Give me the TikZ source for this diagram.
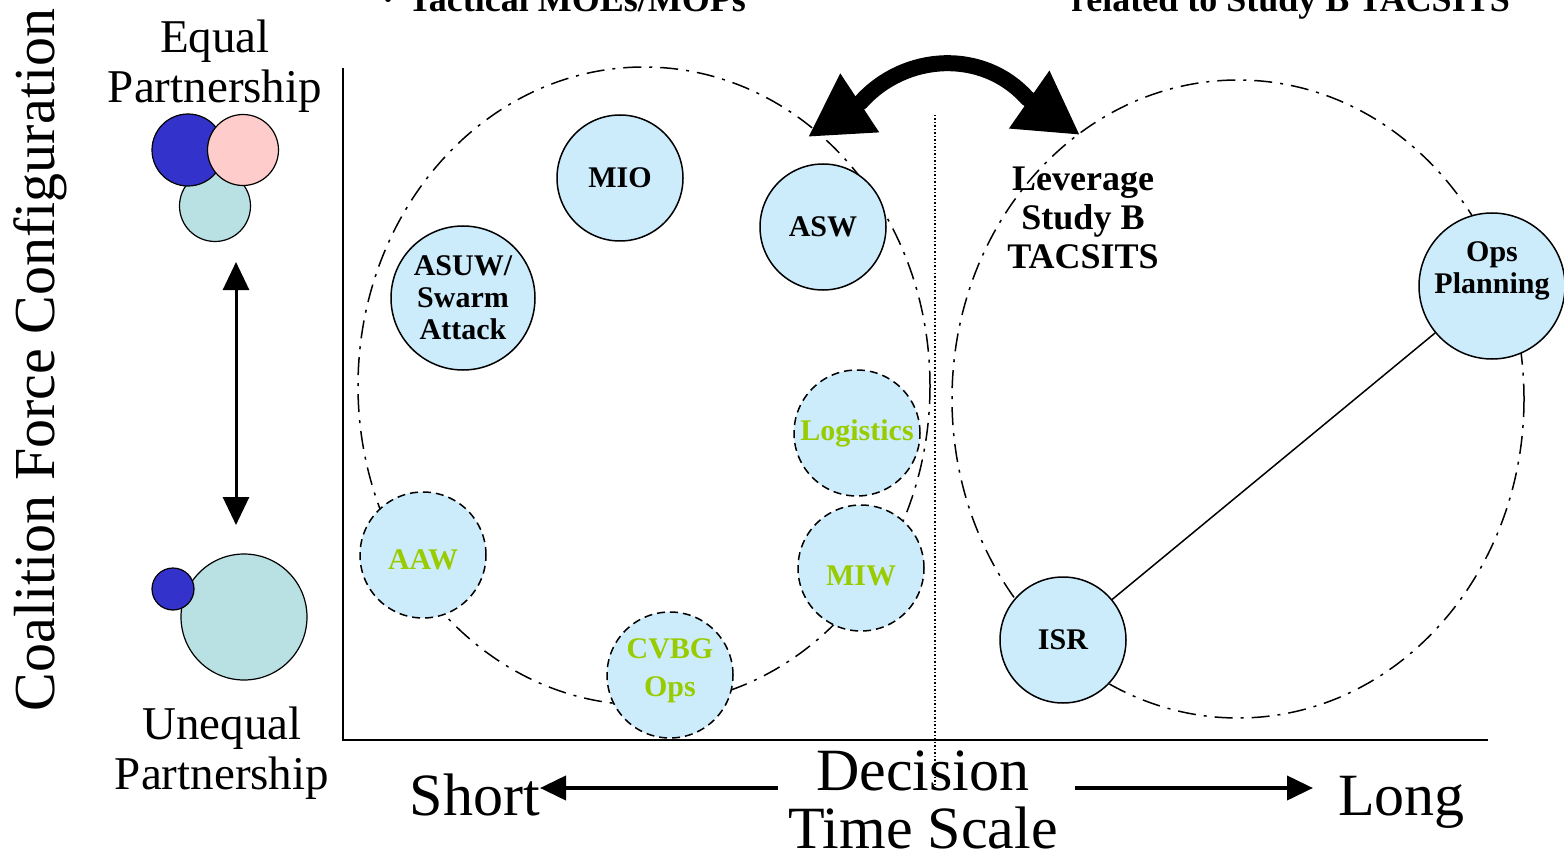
\documentclass[tikz,border=0pt]{standalone}
\usepackage{fontspec}
\setmainfont{Liberation Serif}
\usepackage{xcolor}
\usetikzlibrary{arrows.meta}

\definecolor{skyfill}{RGB}{204,236,252}
\definecolor{limetext}{RGB}{153,204,0}
\definecolor{navyblob}{RGB}{51,51,204}
\definecolor{pinkblob}{RGB}{255,204,204}
\definecolor{tealblob}{RGB}{185,224,226}

\newcommand{\bigtext}{\fontsize{60}{58}\selectfont}
\newcommand{\sidetext}{\fontsize{47}{50}\selectfont}
\newcommand{\labeltext}{\fontsize{30}{32}\selectfont\bfseries}
\newcommand{\notetext}{\fontsize{36}{39}\selectfont\bfseries}

\tikzset{
    task/.style={circle, draw, line width=1.5pt, fill=skyfill, minimum size=126pt,
        inner sep=0pt, align=center, font=\labeltext},
    softtask/.style={task, dash pattern=on 8pt off 5pt, text=limetext},
    horizon/.style={line width=1.5pt, dash pattern=on 18pt off 8pt on 3pt off 8pt},
    blob/.style={circle, draw, line width=1.2pt, inner sep=0pt},
    axisline/.style={line width=2.5pt},
}

\begin{document}
\begin{tikzpicture}[x=1pt, y=-1pt]

    % Fix the page size and cut the text that runs off the top
    \useasboundingbox (0,0) rectangle (1564,861);
    \clip (0,0) rectangle (1564,861);

    % Short and long decision horizons
    \draw[horizon] (644,386) ellipse (286 and 319);
    \draw[horizon] (1238,399) ellipse (286 and 319);

    % Axes and the divider between the two horizons
    \draw[axisline] (343,68) -- (343,740) -- (1488,740);
    \draw[line width=1.5pt, dotted] (935,115) -- (935,790);

    % Headings cut off at the top edge
    \node[anchor=base west, font=\notetext, inner sep=0pt] (moes) at (382,12) {·\hspace{14pt}Tactical MOEs/MOPs};
    \node[anchor=base east, font=\notetext, inner sep=0pt] (related) at (1510,12) {related to Study B TACSITS};

    % Short time scale mission areas
    \node[task] (mio) at (620,178) {MIO};
    \node[task] (asw) at (823,227) {ASW};
    \node[task, minimum size=144pt] (asuw) at (463,298) {ASUW/\\Swarm\\Attack};
    \node[softtask] (logistics) at (857,433) {Logistics};
    \node[softtask, text height=30pt] (aaw) at (423,555) {AAW};
    \node[softtask, text height=36pt] (miw) at (861,568) {MIW};
    \node[softtask, font=\fontsize{30}{38}\selectfont\bfseries] (cvbg) at (670,675) {CVBG\\Ops\rule[-14pt]{0pt}{0pt}};

    % Long time scale mission areas
    \node[task, minimum size=146pt] (ops) at (1492,286) {Ops\\Planning\rule[-36pt]{0pt}{0pt}};
    \node[task] (isr) at (1063,640) {ISR};
    \draw[line width=1.5pt] (isr) -- (ops);

    \node[font=\notetext, align=center] (leverage) at (1083,218) {Leverage\\Study B\\TACSITS};

    % Swing between the two horizons
    \coordinate (swingl) at (808,137);
    \coordinate (swinglb) at (861,102);
    \coordinate (swingrb) at (1027,98);
    \coordinate (swingr) at (1080,135);
    \draw[line width=16pt, line join=round, {Triangle[length=62pt, width=66pt]}-{Triangle[length=62pt, width=66pt]}]
        (swingl) -- (swinglb) .. controls (905,53) and (983,49) .. (swingrb) -- (swingr);

    % Coalition force configuration
    \node[rotate=90, font=\fontsize{58}{60}\selectfont] (coalition) at (40,360) {Coalition Force Configuration};
    \node[font=\sidetext, align=center] (equal) at (215,66) {Equal\\Partnership};
    \node[font=\sidetext, align=center] (unequal) at (222,753) {Unequal\\Partnership};

    \node[blob, fill=tealblob, minimum size=71pt] (eqc) at (215,206) {};
    \node[blob, fill=navyblob, minimum size=72pt] (eqa) at (188,150) {};
    \node[blob, fill=pinkblob, minimum size=71pt] (eqb) at (243,150) {};

    \node[blob, fill=tealblob, minimum size=126pt] (uneqb) at (244,617) {};
    \node[blob, fill=navyblob, minimum size=42pt] (uneqa) at (173,589) {};

    \coordinate (cfgtop) at (236,262);
    \coordinate (cfgbot) at (236,525);
    \draw[line width=3pt, {Triangle[length=28pt, width=26pt]}-{Triangle[length=28pt, width=26pt]}] (cfgtop) -- (cfgbot);

    % Decision time scale
    \node[font=\bigtext, align=center] (decision) at (923,800) {Decision\\Time Scale};
    \node[font=\bigtext, anchor=base east, inner sep=0pt] (short) at (540,815) {Short};
    \node[font=\bigtext, anchor=base west, inner sep=0pt] (long) at (1338,815) {Long};
    \coordinate (shortstart) at (778,788);
    \coordinate (shortend) at (540,788);
    \coordinate (longstart) at (1075,788);
    \coordinate (longend) at (1313,788);
    \draw[line width=4pt, -{Triangle[length=26pt, width=24pt]}] (shortstart) -- (shortend);
    \draw[line width=4pt, -{Triangle[length=26pt, width=24pt]}] (longstart) -- (longend);

\end{tikzpicture}
\end{document}
